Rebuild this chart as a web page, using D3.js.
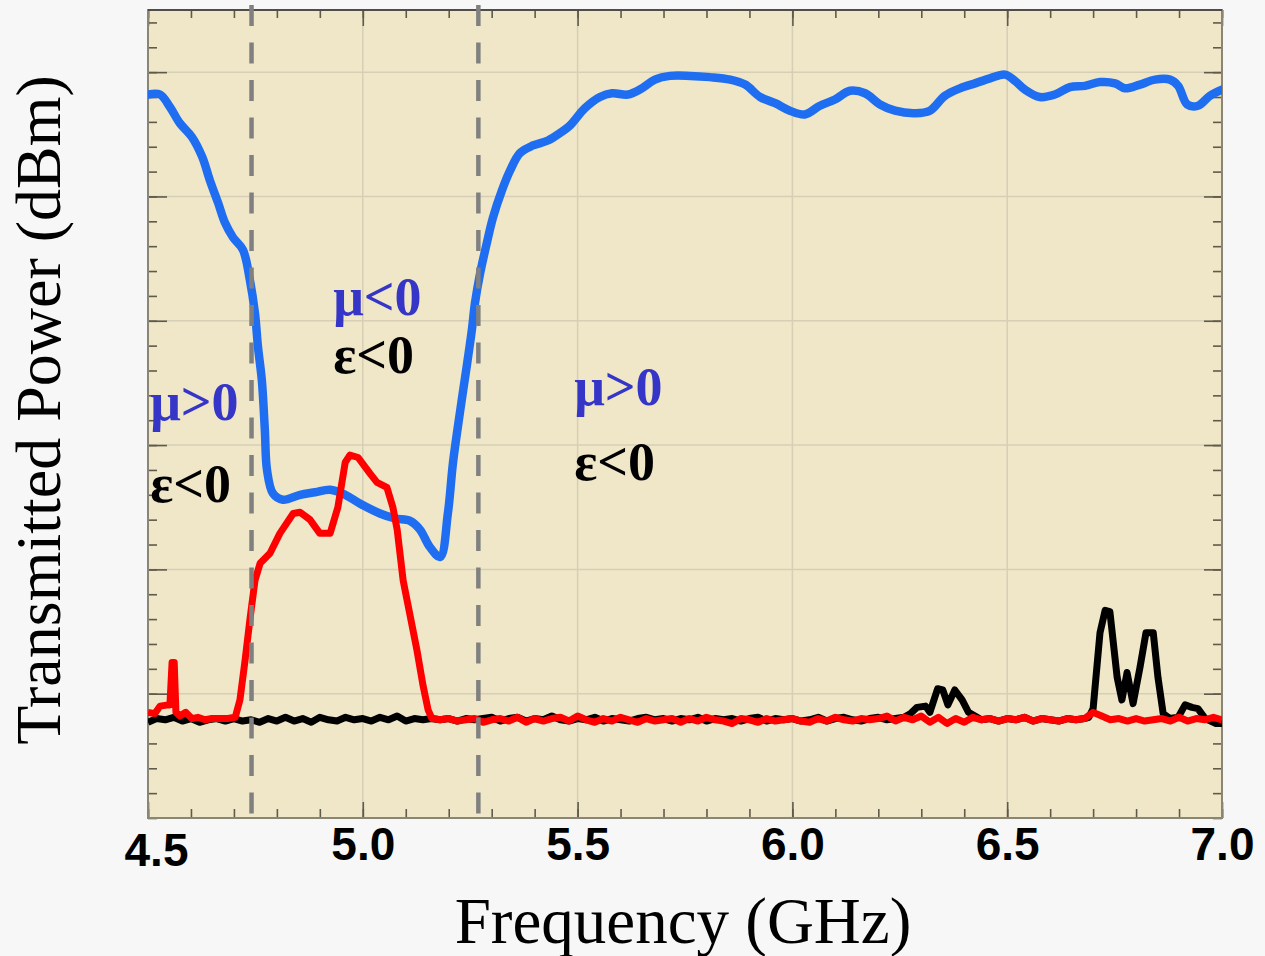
<!DOCTYPE html>
<html>
<head>
<meta charset="utf-8">
<script src="https://cdn.jsdelivr.net/npm/d3@7"></script>
<style>
body { margin: 0; background: #f7f7f7; }
</style>
</head>
<body>
<div id="vis_canvas"></div>
<script>

// blue trace (sample with unit cell)
var blueFreq = [4.500,4.528,4.551,4.574,4.602,4.626,4.644,4.663,4.679,4.698,4.721,4.737,4.749,4.756,4.765,4.772,4.777,4.791,4.814,4.854,4.889,4.924,4.959,4.993,5.040,5.075,5.110,5.133,5.156,5.180,5.198,5.210,5.226,5.243,5.254,5.261,5.273,5.289,5.303,5.324,5.343,5.366,5.396,5.431,5.459,5.482,5.517,5.552,5.580,5.617,5.645,5.680,5.715,5.762,5.808,5.855,5.890,5.925,5.960,5.994,6.029,6.064,6.099,6.134,6.169,6.204,6.239,6.285,6.320,6.355,6.390,6.425,6.460,6.495,6.518,6.541,6.576,6.611,6.646,6.681,6.716,6.751,6.774,6.809,6.844,6.879,6.898,6.919,6.944,6.972,7.000];
var bluePow  = [-21.8,-21.8,-22.8,-24.1,-25.2,-26.8,-28.7,-30.5,-32.1,-33.3,-34.3,-36.7,-39.4,-42.1,-44.8,-48.8,-52.0,-53.9,-54.4,-54.0,-53.8,-53.6,-54.0,-54.7,-55.5,-55.9,-56.1,-56.8,-58.2,-59.0,-55.5,-51.4,-47.4,-43.4,-40.7,-38.6,-36.2,-33.7,-31.7,-29.5,-27.9,-26.5,-25.9,-25.5,-24.9,-24.3,-22.9,-22.0,-21.7,-21.8,-21.4,-20.6,-20.3,-20.3,-20.4,-20.6,-21.0,-22.0,-22.5,-23.1,-23.4,-22.7,-22.2,-21.5,-21.7,-22.6,-23.1,-23.3,-23.1,-21.9,-21.3,-20.9,-20.5,-20.2,-20.7,-21.4,-22.0,-21.8,-21.2,-21.1,-20.8,-20.9,-21.3,-21.0,-20.6,-20.6,-21.1,-22.6,-22.7,-21.9,-21.4];

// red trace
var redFreq = [4.500,4.516,4.528,4.547,4.551,4.556,4.561,4.565,4.574,4.588,4.602,4.616,4.633,4.649,4.668,4.686,4.703,4.714,4.726,4.737,4.749,4.761,4.784,4.807,4.838,4.854,4.877,4.900,4.924,4.942,4.959,4.970,4.989,5.017,5.033,5.056,5.070,5.080,5.094,5.110,5.126,5.140,5.152,5.161,
  5.18,5.20,5.22,5.24,5.26,5.28,5.30,5.32,5.34,5.36,5.38,5.40,5.42,5.44,5.46,5.48,5.50,5.52,5.54,5.56,5.58,5.60,5.62,5.64,5.66,5.68,5.70,5.72,5.74,5.76,5.78,5.80,5.82,5.84,5.86,5.88,5.90,5.92,5.94,5.96,5.98,6.00,
  6.02,6.04,6.06,6.08,6.10,6.12,6.14,6.16,6.18,6.20,6.22,6.24,6.26,6.28,6.30,6.32,6.34,6.36,6.38,6.40,6.42,6.44,6.46,6.48,6.50,6.52,6.54,6.56,6.58,6.60,6.62,6.64,6.66,6.68,6.70,6.72,6.74,6.76,6.78,6.80,6.82,6.84,6.86,6.88,6.90,6.92,6.94,6.96,6.98,7.00];
var redPow = [-71.5,-71.6,-71.0,-70.9,-70.9,-67.5,-67.5,-71.5,-71.8,-71.5,-72.0,-71.9,-72.1,-72.0,-72.0,-72.0,-71.9,-70.5,-67.3,-64.1,-60.9,-59.5,-58.7,-57.1,-55.5,-55.4,-56.0,-57.1,-57.1,-55.0,-51.4,-50.8,-51.0,-52.3,-53.0,-53.4,-55.0,-56.8,-60.9,-63.7,-66.5,-69.3,-71.3,-72.0,
  -72.1,-72.0,-72.2,-72.1,-72.0,-72.3,-72.1,-72.0,-72.2,-71.9,-72.3,-72.0,-72.2,-72.0,-71.9,-72.2,-71.8,-72.1,-72.3,-72.0,-72.2,-71.9,-72.1,-72.3,-72.0,-72.2,-72.1,-72.0,-72.3,-72.0,-72.2,-71.9,-72.1,-72.2,-72.4,-72.0,-72.1,-72.3,-72.0,-72.2,-72.1,-72.0,
  -72.2,-72.3,-72.0,-72.2,-71.9,-72.1,-72.2,-72.0,-72.1,-72.0,-71.8,-72.2,-71.9,-72.1,-71.8,-72.3,-71.9,-72.4,-72.0,-72.3,-71.9,-72.1,-72.0,-72.2,-72.0,-72.1,-71.9,-72.2,-72.0,-72.1,-72.2,-72.0,-72.1,-72.0,-71.5,-71.8,-72.1,-72.0,-72.2,-72.0,-72.2,-72.1,-72.0,-72.2,-71.9,-72.2,-72.0,-72.1,-71.9,-72.1];

// black trace
var blackFreq = [4.50,4.52,4.54,4.56,4.58,4.60,4.62,4.64,4.66,4.68,4.70,4.72,4.74,4.76,4.78,4.80,4.82,4.84,4.86,4.88,4.90,4.92,4.94,4.96,4.98,5.00,
  5.02,5.04,5.06,5.08,5.10,5.12,5.14,5.16,5.18,5.20,5.22,5.24,5.26,5.28,5.30,5.32,5.34,5.36,5.38,5.40,5.42,5.44,5.46,5.48,5.50,
  5.52,5.54,5.56,5.58,5.60,5.62,5.64,5.66,5.68,5.70,5.72,5.74,5.76,5.78,5.80,5.82,5.84,5.86,5.88,5.90,5.92,5.94,5.96,5.98,6.00,
  6.02,6.04,6.06,6.08,6.10,6.12,6.14,6.16,6.18,6.20,6.22,6.24,6.26,
  6.275,6.290,6.310,6.320,6.338,6.350,6.362,6.378,6.395,6.410,6.425,
  6.44,6.46,6.48,6.50,6.52,6.54,6.56,6.58,6.60,6.62,6.64,6.66,6.68,6.69,
  6.700,6.716,6.728,6.739,6.756,6.767,6.779,6.793,6.809,6.823,6.840,6.851,6.863,6.879,6.898,6.914,6.930,6.944,6.961,6.986,7.000];
var blackPow = [-72.3,-72.0,-72.1,-71.9,-72.2,-72.0,-72.3,-72.1,-72.0,-72.2,-72.0,-72.2,-72.1,-72.3,-72.0,-72.2,-71.9,-72.2,-72.0,-72.3,-71.9,-72.1,-72.2,-71.9,-72.1,-72.0,
  -72.2,-71.9,-72.1,-71.8,-72.2,-72.0,-72.1,-72.0,-72.1,-72.0,-72.2,-72.0,-72.1,-72.0,-71.9,-72.2,-72.0,-71.9,-72.2,-72.0,-72.1,-71.8,-72.1,-72.2,-72.0,
  -72.1,-71.9,-72.2,-72.0,-72.1,-72.2,-72.0,-71.9,-72.1,-72.0,-72.2,-72.0,-72.1,-71.9,-72.2,-72.0,-72.1,-72.0,-72.2,-72.0,-71.9,-72.2,-72.0,-72.1,-72.0,
  -72.2,-72.1,-71.9,-72.2,-72.0,-71.9,-72.1,-72.2,-72.0,-71.9,-72.1,-72.0,-71.9,
  -71.6,-71.1,-71.0,-71.5,-69.6,-69.7,-70.9,-69.7,-70.5,-71.5,-71.8,
  -72.1,-72.0,-72.2,-72.0,-72.1,-71.9,-72.2,-72.0,-72.1,-72.2,-72.0,-72.1,-72.0,-71.9,
  -71.2,-65.1,-63.3,-63.4,-68.7,-70.5,-68.3,-70.8,-67.9,-65.1,-65.1,-68.7,-71.6,-72.0,-71.9,-70.9,-71.1,-71.2,-72.0,-72.4,-72.4];

// band edges (dashed)
var edgeFreq = [4.741, 5.269];

// region labels
var labelText = ["μ>0", "ε<0", "μ<0", "ε<0", "μ>0", "ε<0"];
var labelFreq = [4.505, 4.505, 4.931, 4.931, 5.492, 5.492];
var labelPow  = [-48.0, -54.6, -39.5, -44.2, -46.8, -52.8];
var labelIsMu = [true, false, true, false, true, false];

var xMajor = [4.5, 5.0, 5.5, 6.0, 6.5, 7.0];
var xGrid = [5.0, 5.5, 6.0, 6.5];
var yGrid = [-70, -60, -50, -40, -30, -20];

var margin = { top: 10, right: 43, bottom: 138, left: 148 };
var W = 1265, H = 956;
var w = W - margin.left - margin.right;
var h = H - margin.top - margin.bottom;

var x = d3.scaleLinear().domain([4.5, 7.0]).range([0, w]);
var y = d3.scaleLinear().domain([-80, -15]).range([h, 0]);

var svg = d3.select('#vis_canvas').append('svg')
    .attr('width', W)
    .attr('height', H)
    .style('display', 'block');

var g = svg.append('g')
    .attr('transform', 'translate(' + margin.left + ',' + margin.top + ')');

g.append('rect')
    .attr('width', w)
    .attr('height', h)
    .attr('fill', '#f0e7c8');

svg.append('defs').append('clipPath').attr('id', 'clip')
    .append('rect').attr('width', w).attr('height', h);

// grid
g.selectAll('.vgrid').data(xGrid).enter().append('line')
    .attr('x1', function (d) { return x(d); }).attr('x2', function (d) { return x(d); })
    .attr('y1', 0).attr('y2', h)
    .attr('stroke', '#d6cfb6').attr('stroke-width', 1.5);
g.selectAll('.hgrid').data(yGrid).enter().append('line')
    .attr('y1', function (d) { return y(d); }).attr('y2', function (d) { return y(d); })
    .attr('x1', 0).attr('x2', w)
    .attr('stroke', '#d6cfb6').attr('stroke-width', 1.5);

// inward ticks on all four sides
var tickCol = '#5f5b4c';
var xMinor = d3.range(45, 71).map(function (d) { return d / 10; });
var yMinor = d3.range(-80, -15, 2);

function styleTicks(sel) {
    sel.select('.domain').remove();
    sel.selectAll('line').attr('stroke', tickCol).attr('stroke-width', 1.6);
    sel.selectAll('text').remove();
}

g.append('g').attr('transform', 'translate(0,' + h + ')')
    .call(d3.axisBottom(x).tickValues(xMinor).tickSize(-9)).call(styleTicks);
g.append('g').attr('transform', 'translate(0,' + h + ')')
    .call(d3.axisBottom(x).tickValues(xMajor).tickSize(-16)).call(styleTicks);
g.append('g')
    .call(d3.axisTop(x).tickValues(xMinor).tickSize(-8)).call(styleTicks);
g.append('g')
    .call(d3.axisTop(x).tickValues(xMajor).tickSize(-16)).call(styleTicks);
g.append('g')
    .call(d3.axisLeft(y).tickValues(yMinor).tickSize(-9)).call(styleTicks);
g.append('g')
    .call(d3.axisLeft(y).tickValues(yGrid).tickSize(-19)).call(styleTicks);
g.append('g').attr('transform', 'translate(' + w + ',0)')
    .call(d3.axisRight(y).tickValues(yMinor).tickSize(-9)).call(styleTicks);
g.append('g').attr('transform', 'translate(' + w + ',0)')
    .call(d3.axisRight(y).tickValues(yGrid).tickSize(-18)).call(styleTicks);

// frame
g.append('rect')
    .attr('width', w).attr('height', h)
    .attr('fill', 'none').attr('stroke', '#8a8675').attr('stroke-width', 2);
g.append('line').attr('x1', 0).attr('x2', w).attr('y1', 0).attr('y2', 0)
    .attr('stroke', '#3a3a3a').attr('stroke-width', 1.5);

// x tick labels
var xl = g.append('g').attr('transform', 'translate(0,' + h + ')')
    .call(d3.axisBottom(x).tickValues(xMajor).tickSize(0).tickFormat(d3.format('.1f')));
xl.select('.domain').remove();
xl.selectAll('text')
    .attr('y', 42).attr('dy', 0)
    .attr('fill', '#000')
    .style('font-family', '"Liberation Sans", Arial, sans-serif')
    .style('font-weight', 'bold')
    .style('font-size', '46px')
    .attr('dx', function (d, i) { return i === 0 ? 8 : 0; })
    .attr('transform', function (d, i) { return i === 0 ? 'translate(0,6)' : null; });

// traces
var line = d3.line()
    .x(function (d) { return x(d[0]); })
    .y(function (d) { return y(d[1]); });

var plot = g.append('g').attr('clip-path', 'url(#clip)');

plot.append('path')
    .datum(d3.zip(blueFreq, bluePow))
    .attr('d', line.curve(d3.curveCatmullRom))
    .attr('fill', 'none').attr('stroke', '#1f6ef2').attr('stroke-width', 8.5)
    .attr('stroke-linejoin', 'round').attr('stroke-linecap', 'round');

plot.append('path')
    .datum(d3.zip(blackFreq, blackPow))
    .attr('d', line.curve(d3.curveLinear))
    .attr('fill', 'none').attr('stroke', '#000').attr('stroke-width', 7)
    .attr('stroke-linejoin', 'round');

plot.append('path')
    .datum(d3.zip(redFreq, redPow))
    .attr('d', line.curve(d3.curveLinear))
    .attr('fill', 'none').attr('stroke', '#ff0000').attr('stroke-width', 7)
    .attr('stroke-linejoin', 'round');

// dashed band edges (run a little past the frame)
g.selectAll('.edge').data(edgeFreq).enter().append('line')
    .attr('x1', function (d) { return x(d); }).attr('x2', function (d) { return x(d); })
    .attr('y1', -5).attr('y2', h + 8)
    .attr('stroke', '#808080').attr('stroke-width', 4.5)
    .attr('stroke-dasharray', '21,16.5');

// region labels
g.selectAll('.lab').data(labelText).enter().append('text')
    .attr('x', function (d, i) { return x(labelFreq[i]); })
    .attr('y', function (d, i) { return y(labelPow[i]); })
    .attr('fill', function (d, i) { return labelIsMu[i] ? '#3535c8' : '#000'; })
    .style('font-family', '"Liberation Serif", "Times New Roman", serif')
    .style('font-weight', 'bold')
    .style('font-size', '54px')
    .text(function (d) { return d; });

// axis titles
svg.append('text')
    .attr('x', margin.left + w / 2 - 2)
    .attr('y', 943)
    .attr('text-anchor', 'middle')
    .style('font-family', '"Liberation Serif", "Times New Roman", serif')
    .style('font-size', '65px')
    .text('Frequency (GHz)');

svg.append('text')
    .attr('transform', 'translate(60,410) rotate(-90)')
    .attr('text-anchor', 'middle')
    .style('font-family', '"Liberation Serif", "Times New Roman", serif')
    .style('font-size', '64px')
    .text('Transmitted Power (dBm)');

</script>
</body>
</html>
